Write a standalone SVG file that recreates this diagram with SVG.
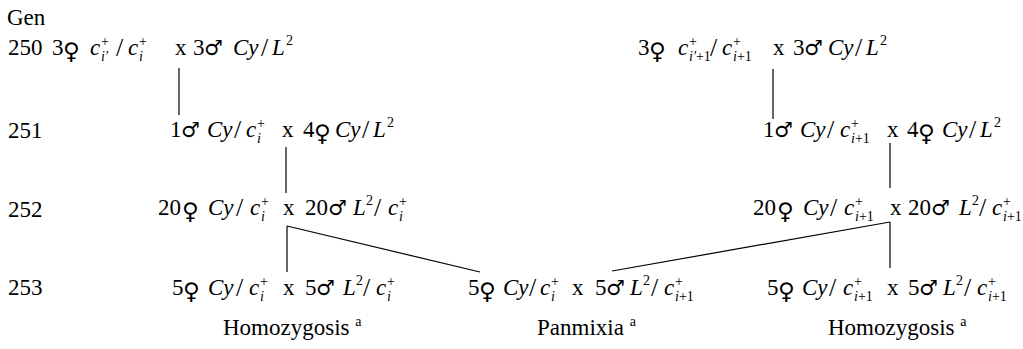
<svg xmlns="http://www.w3.org/2000/svg" width="1023" height="349" viewBox="0 0 1023 349">
<style>
text{font-family:"Liberation Serif","Times New Roman",serif;font-size:23px;fill:#000}
.i{font-style:italic}
.s{font-size:14px}
.sl{font-size:26px}
.sym{font-family:"DejaVu Sans",sans-serif;font-size:21px;font-weight:bold}
.f{font-size:23px}
#connectors line{stroke:#000;stroke-width:1.2}
</style>
<rect width="1023" height="349" fill="#fff"/>
<g id="gen-labels">
<text x="7" y="25">Gen</text>
<text x="8" y="55">250</text>
<text x="8" y="138">251</text>
<text x="8" y="217">252</text>
<text x="8" y="295">253</text>
</g>
<g id="n250L">
<text><tspan x="52" y="55">3</tspan><tspan class="sym f" x="63" y="59">♀</tspan><tspan class="i" x="90" y="55">c</tspan><tspan class="s" x="101" y="46">+</tspan><tspan class="s i" x="101" y="61">i′</tspan><tspan class="sl" x="116" y="56">/</tspan><tspan class="i" x="128" y="55">c</tspan><tspan class="s" x="139" y="46">+</tspan><tspan class="s i" x="139" y="61">i</tspan><tspan x="175" y="55">x</tspan><tspan x="193" y="55">3</tspan><tspan class="sym" x="204" y="55">♂</tspan><tspan class="i" x="233" y="55">Cy</tspan><tspan class="sl" x="261" y="56">/</tspan><tspan class="i" x="272" y="55">L</tspan><tspan class="s" x="286" y="45">2</tspan></text>
</g>
<g id="n250R">
<text><tspan x="638" y="55">3</tspan><tspan class="sym f" x="649" y="59">♀</tspan><tspan class="i" x="678" y="55">c</tspan><tspan class="s" x="689" y="46">+</tspan><tspan class="s" x="689" y="61"><tspan class="i">i′</tspan>+1</tspan><tspan class="sl" x="710" y="56">/</tspan><tspan class="i" x="722" y="55">c</tspan><tspan class="s" x="733" y="46">+</tspan><tspan class="s" x="733" y="61"><tspan class="i">i</tspan>+1</tspan><tspan x="773" y="55">x</tspan><tspan x="793" y="55">3</tspan><tspan class="sym" x="804" y="55">♂</tspan><tspan class="i" x="828" y="55">Cy</tspan><tspan class="sl" x="855" y="56">/</tspan><tspan class="i" x="866" y="55">L</tspan><tspan class="s" x="880" y="45">2</tspan></text>
</g>
<g id="n251L">
<text><tspan x="170" y="137">1</tspan><tspan class="sym" x="181" y="137">♂</tspan><tspan class="i" x="207" y="137">Cy</tspan><tspan class="sl" x="234" y="138">/</tspan><tspan class="i" x="246" y="137">c</tspan><tspan class="s" x="257" y="128">+</tspan><tspan class="s i" x="257" y="143">i</tspan><tspan x="282" y="137">x</tspan><tspan x="303" y="137">4</tspan><tspan class="sym f" x="314" y="141">♀</tspan><tspan class="i" x="335" y="137">Cy</tspan><tspan class="sl" x="362" y="138">/</tspan><tspan class="i" x="373" y="137">L</tspan><tspan class="s" x="387" y="127">2</tspan></text>
</g>
<g id="n251R">
<text><tspan x="763" y="137">1</tspan><tspan class="sym" x="774" y="137">♂</tspan><tspan class="i" x="800" y="137">Cy</tspan><tspan class="sl" x="827" y="138">/</tspan><tspan class="i" x="840" y="137">c</tspan><tspan class="s" x="851" y="128">+</tspan><tspan class="s" x="851" y="143"><tspan class="i">i</tspan>+1</tspan><tspan x="887" y="137">x</tspan><tspan x="907" y="137">4</tspan><tspan class="sym f" x="918" y="141">♀</tspan><tspan class="i" x="942" y="137">Cy</tspan><tspan class="sl" x="969" y="138">/</tspan><tspan class="i" x="980" y="137">L</tspan><tspan class="s" x="994" y="127">2</tspan></text>
</g>
<g id="n252L">
<text><tspan x="158" y="215">20</tspan><tspan class="sym f" x="182" y="219">♀</tspan><tspan class="i" x="208" y="215">Cy</tspan><tspan class="sl" x="236" y="216">/</tspan><tspan class="i" x="250" y="215">c</tspan><tspan class="s" x="261" y="206">+</tspan><tspan class="s i" x="261" y="221">i</tspan><tspan x="283" y="215">x</tspan><tspan x="305" y="215">20</tspan><tspan class="sym" x="328" y="215">♂</tspan><tspan class="i" x="353" y="215">L</tspan><tspan class="s" x="366" y="205">2</tspan><tspan class="sl" x="374" y="216">/</tspan><tspan class="i" x="388" y="215">c</tspan><tspan class="s" x="399" y="206">+</tspan><tspan class="s i" x="399" y="221">i</tspan></text>
</g>
<g id="n252R">
<text><tspan x="753" y="215">20</tspan><tspan class="sym f" x="777" y="219">♀</tspan><tspan class="i" x="803" y="215">Cy</tspan><tspan class="sl" x="830" y="216">/</tspan><tspan class="i" x="844" y="215">c</tspan><tspan class="s" x="855" y="206">+</tspan><tspan class="s" x="855" y="221"><tspan class="i">i</tspan>+1</tspan><tspan x="890" y="215">x</tspan><tspan x="908" y="215">20</tspan><tspan class="sym" x="931" y="215">♂</tspan><tspan class="i" x="959" y="215">L</tspan><tspan class="s" x="972" y="205">2</tspan><tspan class="sl" x="979" y="216">/</tspan><tspan class="i" x="992" y="215">c</tspan><tspan class="s" x="1003" y="206">+</tspan><tspan class="s" x="1003" y="221"><tspan class="i">i</tspan>+1</tspan></text>
</g>
<g id="n253L">
<text><tspan x="172" y="295">5</tspan><tspan class="sym f" x="183" y="299">♀</tspan><tspan class="i" x="208" y="295">Cy</tspan><tspan class="sl" x="236" y="296">/</tspan><tspan class="i" x="249" y="295">c</tspan><tspan class="s" x="260" y="286">+</tspan><tspan class="s i" x="260" y="301">i</tspan><tspan x="283" y="295">x</tspan><tspan x="305" y="295">5</tspan><tspan class="sym" x="316" y="295">♂</tspan><tspan class="i" x="343" y="295">L</tspan><tspan class="s" x="356" y="285">2</tspan><tspan class="sl" x="363" y="296">/</tspan><tspan class="i" x="376" y="295">c</tspan><tspan class="s" x="387" y="286">+</tspan><tspan class="s i" x="387" y="301">i</tspan></text>
<text x="223" y="335">Homozygosis <tspan class="s" dy="-9">a</tspan></text>
</g>
<g id="n253M">
<text><tspan x="468" y="295">5</tspan><tspan class="sym f" x="479" y="299">♀</tspan><tspan class="i" x="503" y="295">Cy</tspan><tspan class="sl" x="529" y="296">/</tspan><tspan class="i" x="540" y="295">c</tspan><tspan class="s" x="551" y="286">+</tspan><tspan class="s i" x="551" y="301">i</tspan><tspan x="572" y="295">x</tspan><tspan x="595" y="295">5</tspan><tspan class="sym" x="606" y="295">♂</tspan><tspan class="i" x="630" y="295">L</tspan><tspan class="s" x="643" y="285">2</tspan><tspan class="sl" x="651" y="296">/</tspan><tspan class="i" x="664" y="295">c</tspan><tspan class="s" x="675" y="286">+</tspan><tspan class="s" x="675" y="301"><tspan class="i">i</tspan>+1</tspan></text>
<text x="537" y="335">Panmixia <tspan class="s" dy="-9">a</tspan></text>
</g>
<g id="n253R">
<text><tspan x="767" y="295">5</tspan><tspan class="sym f" x="778" y="299">♀</tspan><tspan class="i" x="802" y="295">Cy</tspan><tspan class="sl" x="829" y="296">/</tspan><tspan class="i" x="843" y="295">c</tspan><tspan class="s" x="854" y="286">+</tspan><tspan class="s" x="854" y="301"><tspan class="i">i</tspan>+1</tspan><tspan x="887" y="295">x</tspan><tspan x="908" y="295">5</tspan><tspan class="sym" x="919" y="295">♂</tspan><tspan class="i" x="943" y="295">L</tspan><tspan class="s" x="956" y="285">2</tspan><tspan class="sl" x="964" y="296">/</tspan><tspan class="i" x="977" y="295">c</tspan><tspan class="s" x="988" y="286">+</tspan><tspan class="s" x="988" y="301"><tspan class="i">i</tspan>+1</tspan></text>
<text x="828" y="335">Homozygosis <tspan class="s" dy="-9">a</tspan></text>
</g>
<g id="connectors">
<line x1="179" y1="68" x2="179" y2="115"/>
<line x1="286" y1="147" x2="286" y2="193"/>
<line x1="287" y1="226" x2="287" y2="272"/>
<line x1="287" y1="226" x2="480" y2="272"/>
<line x1="773" y1="69" x2="773" y2="119"/>
<line x1="890" y1="143" x2="890" y2="188"/>
<line x1="890" y1="222" x2="890" y2="268"/>
<line x1="890" y1="222" x2="612" y2="271"/>
</g>
</svg>
